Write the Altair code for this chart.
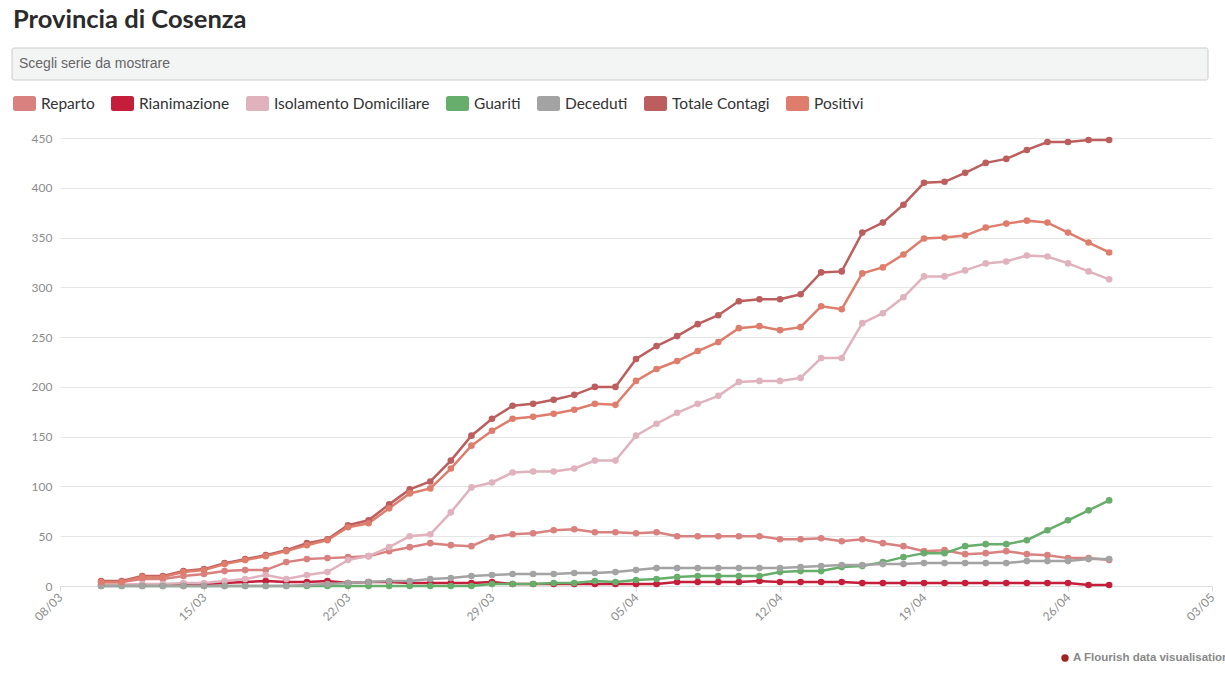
import altair as alt
import pandas as pd

# ---------------- data ----------------
dates = pd.date_range("2020-03-10", "2020-04-28", freq="D").strftime("%Y-%m-%dT00:00:00").tolist()

series_names = ["Reparto", "Rianimazione", "Isolamento Domiciliare", "Guariti",
                "Deceduti", "Totale Contagi", "Positivi"]
series_colors = ["#d9817f", "#c41e3a", "#e0b2bd", "#67ad6b",
                 "#a3a3a3", "#bc5e5e", "#df7d6c"]

reparto = [4, 4, 7, 7, 10, 12, 15, 16, 16, 24,
           27, 28, 29, 30, 35, 39, 43, 41, 40, 49,
           52, 53, 56, 57, 54, 54, 53, 54, 50, 50,
           50, 50, 50, 47, 47, 48, 45, 47, 43, 40,
           35, 36, 32, 33, 35, 32, 31, 28, 28, 26]
rianimazione = [1, 1, 1, 1, 2, 2, 3, 4, 5, 4,
                4, 5, 3, 4, 4, 3, 3, 3, 3, 4,
                2, 2, 2, 2, 2, 2, 2, 2, 4, 4,
                4, 4, 5, 4, 4, 4, 4, 3, 3, 3,
                3, 3, 3, 3, 3, 3, 3, 3, 1, 1]
isolamento = [1, 1, 2, 2, 3, 3, 5, 7, 11, 7,
              11, 14, 26, 30, 39, 50, 52, 74, 99, 104,
              114, 115, 115, 118, 126, 126, 151, 163, 174, 183,
              191, 205, 206, 206, 209, 229, 229, 264, 274, 290,
              311, 311, 317, 324, 326, 332, 331, 324, 316, 308]
guariti = [0, 0, 0, 0, 0, 0, 0, 0, 0, 0,
           0, 0, 0, 0, 0, 0, 0, 0, 0, 2,
           2, 2, 3, 3, 5, 4, 6, 7, 9, 10,
           10, 10, 10, 14, 15, 15, 19, 20, 24, 29,
           33, 33, 40, 42, 42, 46, 56, 66, 76, 86]
deceduti = [0, 0, 0, 0, 0, 0, 0, 0, 0, 0,
            1, 2, 3, 4, 5, 5, 7, 8, 10, 11,
            12, 12, 12, 13, 13, 14, 16, 18, 18, 18,
            18, 18, 18, 18, 19, 20, 21, 21, 22, 22,
            23, 23, 23, 23, 23, 25, 25, 25, 27, 27]
totale = [5, 5, 10, 10, 15, 17, 23, 27, 31, 36,
          43, 47, 61, 66, 82, 97, 105, 126, 151, 168,
          181, 183, 187, 192, 200, 200, 228, 241, 251, 263,
          272, 286, 288, 288, 293, 315, 316, 355, 365, 383,
          405, 406, 415, 425, 429, 438, 446, 446, 448, 448]
positivi = [4, 4, 9, 9, 14, 16, 22, 26, 30, 35,
            41, 46, 59, 63, 78, 93, 98, 118, 141, 156,
            168, 170, 173, 177, 183, 182, 206, 218, 226, 236,
            245, 259, 261, 257, 260, 281, 278, 314, 320, 333,
            349, 350, 352, 360, 364, 367, 365, 355, 345, 335]

tick_dates = [(2020, 3, 8), (2020, 3, 15), (2020, 3, 22), (2020, 3, 29),
              (2020, 4, 5), (2020, 4, 12), (2020, 4, 19), (2020, 4, 26), (2020, 5, 3)]
y_ticks = [0, 50, 100, 150, 200, 250, 300, 350, 400, 450]

values_by_series = [reparto, rianimazione, isolamento, guariti, deceduti, totale, positivi]
rows = []
for name, vals in zip(series_names, values_by_series):
    for d, v in zip(dates, vals):
        rows.append({"date": d, "serie": name, "value": v})
df = pd.DataFrame(rows)
deco = pd.DataFrame({"k": [0]})

# ---------------- chart ----------------
color_scale = alt.Scale(domain=series_names, range=series_colors)
x_enc = alt.X(
    "date:T",
    scale=alt.Scale(domain=[alt.DateTime(year=2020, month=3, date=8),
                            alt.DateTime(year=2020, month=5, date=3)]),
    axis=alt.Axis(
        values=[alt.DateTime(year=y, month=m, date=d) for (y, m, d) in tick_dates],
        format="%d/%m", labelAngle=-45, labelAlign="right", labelBaseline="middle",
        labelFlush=False, labelOverlap=False, grid=False,
        domainColor="#dddddd", tickColor="#dddddd", tickSize=5,
        labelColor="#8c8c8c", labelFont="Lato", labelFontSize=12, labelPadding=4,
        title=None,
    ),
)
y_enc = alt.Y(
    "value:Q",
    scale=alt.Scale(domain=[0, 450], nice=False),
    axis=alt.Axis(values=y_ticks, domain=False, ticks=False, gridColor="#e6e6e6",
                  labelColor="#8c8c8c", labelFont="Lato", labelFontSize=12,
                  labelPadding=8, title=None),
)

rounded = ("M-0.78,-0.66L0.78,-0.66Q1,-0.66 1,-0.44L1,0.44Q1,0.66 0.78,0.66"
           "L-0.78,0.66Q-1,0.66 -1,0.44L-1,-0.44Q-1,-0.66 -0.78,-0.66Z")

lines = alt.Chart(df).mark_line(strokeWidth=2.5).encode(
    x=x_enc, y=y_enc,
    color=alt.Color("serie:N", scale=color_scale, sort=series_names, legend=None),
)
points = alt.Chart(df).mark_circle(size=44, opacity=1).encode(
    x=x_enc, y=y_enc,
    color=alt.Color(
        "serie:N", scale=color_scale, sort=series_names,
        legend=alt.Legend(
            orient="none", legendX=-47, legendY=-46, direction="horizontal",
            title=None, symbolType=rounded, symbolSize=529, symbolStrokeWidth=0,
            symbolOpacity=1, labelFont="Lato", labelFontSize=15.5, labelColor="#333333",
            labelOffset=5, columnPadding=16, padding=0,
        ),
    ),
)

title_txt = alt.Chart(deco).mark_text(
    text="Provincia di Cosenza", font="Lato", fontSize=25.5, fontWeight="bold",
    color="#2b2b2b", align="left", baseline="middle",
).encode(x=alt.value(-47), y=alt.value(-118))

box = alt.Chart(deco).mark_rect(
    fill="#f3f4f4", stroke="#cccccc", strokeWidth=1, cornerRadius=2,
).encode(x=alt.value(-48), x2=alt.value(1148), y=alt.value(-90), y2=alt.value(-58))

box_txt = alt.Chart(deco).mark_text(
    text="Scegli serie da mostrare", font="Liberation Sans", fontSize=14,
    color="#666666", align="left", baseline="middle",
).encode(x=alt.value(-41), y=alt.value(-74))

footer_icon = alt.Chart(deco).mark_point(
    shape="circle", filled=True, color="#a0231f", size=55, opacity=1,
).encode(x=alt.value(1005), y=alt.value(520))

footer_txt = alt.Chart(deco).mark_text(
    text="A Flourish data visualisation", font="Liberation Sans", fontSize=11.5,
    fontWeight="bold", color="#888888", align="left", baseline="middle",
).encode(x=alt.value(1013), y=alt.value(520))

chart = alt.layer(
    box, box_txt, title_txt, lines, points, footer_icon, footer_txt
).resolve_scale(color="independent").resolve_legend(color="independent").properties(
    width=1152, height=448,
    autosize=alt.AutoSizeParams(type="none"),
    padding={"left": 60, "top": 138, "right": 13, "bottom": 97},
    background="white",
).configure_view(stroke=None)

chart.save("out.html", embed_options={"renderer": "svg", "actions": False})
